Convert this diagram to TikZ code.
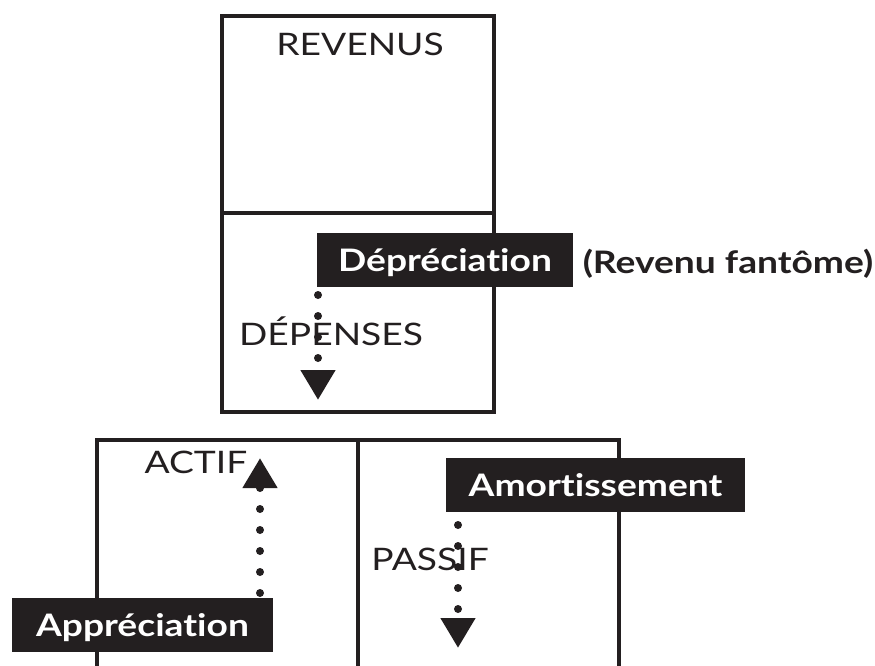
\documentclass[tikz,border=0pt]{standalone}
\usepackage{fontspec}
\setmainfont{Lato}[FakeStretch=1.2, Ligatures=NoCommon]
\usetikzlibrary{arrows.meta}

\definecolor{ink}{HTML}{231F20}

\tikzset{
    boxline/.style={draw=ink, line width=3.2pt, line cap=rect},
    caption/.style={text=ink, font=\fontsize{31}{33}\selectfont, inner sep=0pt, anchor=base},
    labelbox/.style={fill=ink, text=white, font=\bfseries\fontsize{31}{33}\selectfont,
        minimum height=54pt, inner sep=0pt, text height=23pt, text depth=0pt},
    dotarrow/.style={draw=ink, line width=8pt, line cap=round,
        dash pattern=on 0pt off 21pt, -{Triangle[width=33pt, length=30pt]}}
}

\begin{document}
\begin{tikzpicture}[x=1pt, y=-1pt]
    % Cadre de la page
    \useasboundingbox (0,0) rectangle (875,665);

    % ==================== COMPTE DE RÉSULTAT ====================
    \draw[boxline] (222,16) rectangle (494,412);
    \draw[boxline] (222,213) -- (494,213);
    \node[caption] (revenus) at (360,55) {REVENUS};
    \node[caption] (depenses) at (331,345) {DÉPENSES};

    % ==================== BILAN ====================
    \draw[boxline] (97,670) -- (97,440) -- (619,440) -- (619,670);
    \draw[boxline] (358,440) -- (358,670);
    \node[caption] (actif) at (196,473) {ACTIF};
    \node[caption] (passif) at (430,570) {PASSIF};

    % Étiquettes noires
    \node[labelbox, minimum width=256pt] (depr) at (445,260) {Dépréciation};
    \node[caption, font=\bfseries\fontsize{31}{33}\selectfont]
        (fantome) at (728,273) {(Revenu fantôme)};
    \node[labelbox, minimum width=261pt] (appr) at (142.5,625) {Appréciation};
    \node[labelbox, minimum width=299pt] (amort) at (595.5,485) {Amortissement};

    % Flèches pointillées
    \coordinate (depr-from) at (318,295);
    \coordinate (depr-to) at (318,400);
    \coordinate (appr-from) at (260,593);
    \coordinate (appr-to) at (260,458);
    \coordinate (amort-from) at (458,525);
    \coordinate (amort-to) at (458,648);
    \draw[dotarrow] (depr-from) -- (depr-to);
    \draw[dotarrow] (appr-from) -- (appr-to);
    \draw[dotarrow] (amort-from) -- (amort-to);
\end{tikzpicture}
\end{document}
